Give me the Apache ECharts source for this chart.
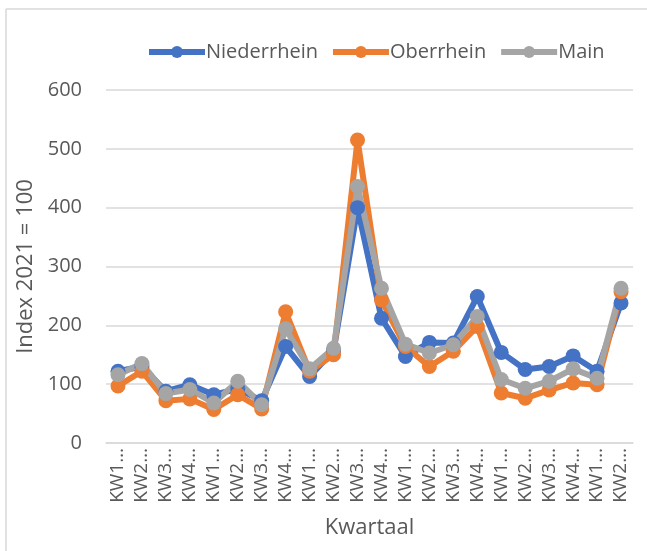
<!DOCTYPE html>
<html>
<head>
<meta charset="utf-8">
<script src="https://cdn.jsdelivr.net/npm/echarts@6/dist/echarts.min.js"></script>
<style>
  html, body { margin: 0; padding: 0; background: #fff; }
  #main { width: 647px; height: 551px; }
</style>
</head>
<body>
<div id="main"></div>
<script>
// kwartalen (labels afgekapt zoals in het origineel)
var categories = ['KW1…', 'KW2…', 'KW3…', 'KW4…', 'KW1…', 'KW2…', 'KW3…', 'KW4…',
  'KW1…', 'KW2…', 'KW3…', 'KW4…', 'KW1…', 'KW2…', 'KW3…', 'KW4…',
  'KW1…', 'KW2…', 'KW3…', 'KW4…', 'KW1…', 'KW2…'];

var niederrhein = [122, 130, 88, 99, 82, 92, 72, 164, 113, 157, 400, 212,
  147, 171, 170, 249, 154, 125, 130, 148, 122, 238];
var oberrhein = [97, 122, 72, 75, 57, 82, 58, 223, 122, 150, 515, 243,
  164, 130, 156, 198, 85, 76, 90, 102, 99, 257];
var main = [116, 135, 84, 91, 68, 105, 65, 194, 126, 161, 436, 263,
  168, 153, 167, 215, 108, 93, 105, 126, 110, 263];

var yTicks = [0, 100, 200, 300, 400, 500, 600];

var font = '"Open Sans", "Liberation Sans", sans-serif';
var textColor = '#595959';

var mycharts = echarts.init(document.getElementById('main'));

function lineSeries(name, data, color) {
  return {
    name: name,
    type: 'line',
    data: data,
    symbol: 'circle',
    symbolSize: 15,
    lineStyle: { color: color, width: 6 },
    itemStyle: { color: color },
    emphasis: { disabled: true }
  };
}

var option = {
  animation: false,
  textStyle: { fontFamily: font },
  graphic: [
    // kader links en boven
    { type: 'line', shape: { x1: 6, y1: 9, x2: 647, y2: 9 }, style: { stroke: '#d9d9d9', lineWidth: 1.5 } },
    { type: 'line', shape: { x1: 6, y1: 9, x2: 6, y2: 551 }, style: { stroke: '#d9d9d9', lineWidth: 1.5 } }
  ],
  legend: {
    top: 37,
    left: 141,
    itemWidth: 56,
    itemHeight: 15,
    itemGap: 12,
    lineStyle: { width: 6 },
    textStyle: { fontSize: 20, color: textColor, fontFamily: font, padding: [0, 0, 0, -4] },
    data: ['Niederrhein', 'Oberrhein', 'Main']
  },
  grid: {
    left: 106,
    right: 14,
    top: 90,
    bottom: 108
  },
  xAxis: {
    type: 'category',
    data: categories,
    boundaryGap: true,
    name: 'Kwartaal',
    nameLocation: 'middle',
    nameGap: 74,
    nameTextStyle: { fontSize: 22, color: textColor },
    axisLine: { show: true, lineStyle: { color: '#d9d9d9', width: 1.5 } },
    axisTick: { show: false },
    axisLabel: {
      interval: 0,
      rotate: 90,
      fontSize: 19,
      color: textColor,
      margin: 5
    }
  },
  yAxis: {
    type: 'value',
    min: yTicks[0],
    max: yTicks[yTicks.length - 1],
    interval: 100,
    name: 'Index 2021 = 100',
    nameLocation: 'middle',
    nameGap: 63,
    nameTextStyle: { fontSize: 22, color: textColor },
    axisLine: { show: false },
    axisTick: { show: false },
    axisLabel: { fontSize: 20, color: textColor, margin: 24 },
    splitLine: { lineStyle: { color: '#d9d9d9', width: 1.5 } }
  },
  series: [
    lineSeries('Niederrhein', niederrhein, '#4472C4'),
    lineSeries('Oberrhein', oberrhein, '#ED7D31'),
    lineSeries('Main', main, '#A5A5A5')
  ]
};

mycharts.setOption(option);
</script>
</body>
</html>
